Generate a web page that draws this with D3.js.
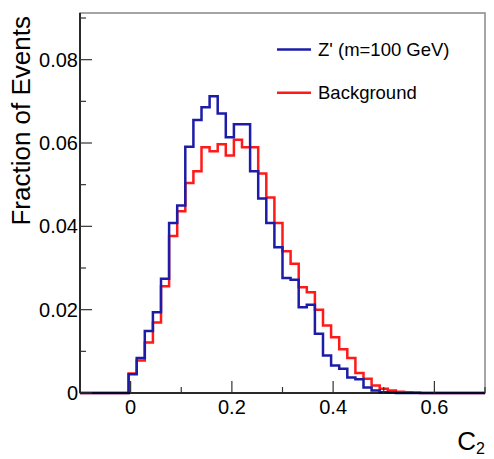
<!DOCTYPE html>
<html>
<head>
<meta charset="utf-8">
<script src="https://cdn.jsdelivr.net/npm/d3@7"></script>
<style>
  body { margin: 0; background: #fff; }
  svg text { font-family: "Liberation Sans", Arial, Helvetica, sans-serif; fill: #000; }
</style>
</head>
<body>
<div id="chart"></div>
<script>
const width = 494;
const height = 459;

// 50 bins from -0.1 to 0.7
const binLow = -0.1;
const binWidth = 0.016;

const signal = [
  0, 0, 0, 0, 0, 0, 0.0045, 0.0084, 0.0149, 0.0194,
  0.0274, 0.0408, 0.0450, 0.0591, 0.0655, 0.0686, 0.0712, 0.0671, 0.0614, 0.0645,
  0.0645, 0.0532, 0.0467, 0.0408, 0.0350, 0.0276, 0.0272, 0.0206, 0.0212, 0.0142,
  0.0090, 0.0066, 0.0058, 0.0037, 0.0033, 0.0013, 0.0006, 0.0002, 0.0001, 0,
  0, 0, 0, 0, 0, 0, 0, 0, 0, 0
];

const background = [
  0, 0, 0, 0, 0, 0, 0.0047, 0.0078, 0.0121, 0.0169,
  0.0256, 0.0377, 0.0436, 0.0504, 0.0532, 0.0590, 0.0580, 0.0597, 0.0570, 0.0608,
  0.0590, 0.0590, 0.0527, 0.0469, 0.0408, 0.0340, 0.0310, 0.0254, 0.0242, 0.0200,
  0.0162, 0.0134, 0.0105, 0.0084, 0.0048, 0.0034, 0.0018, 0.0010, 0.0006, 0.0003,
  0.0002, 0.0001, 0, 0, 0, 0, 0, 0, 0, 0
];

const xTicks = [0, 0.2, 0.4, 0.6];
const xMinor = [-0.1, 0.1, 0.3, 0.5, 0.7];
const yTicks = [0, 0.02, 0.04, 0.06, 0.08];
const yMinor = [0.01, 0.03, 0.05, 0.07, 0.09];

const series = [
  { name: "Background", values: background, color: "#ff1a1a" },
  { name: "Z' (m=100 GeV)", values: signal, color: "#1c1ca8" }
];

const m = { left: 80, right: 485, top: 13, bottom: 393 };

const x = d3.scaleLinear().domain([-0.1, 0.7]).range([m.left, m.right]);
const y = d3.scaleLinear().domain([0, 0.0912]).range([m.bottom, m.top]);

const svg = d3.select("#chart")
  .append("svg")
  .attr("width", width)
  .attr("height", height);

// frame
svg.append("rect")
  .attr("x", m.left).attr("y", m.top)
  .attr("width", m.right - m.left).attr("height", m.bottom - m.top)
  .attr("fill", "none")
  .attr("stroke", "#888")
  .attr("stroke-width", 1.5);

// step histogram lines
const stepLine = values => {
  const pts = [[binLow, 0]];
  values.forEach((v, i) => {
    const lo = binLow + i * binWidth;
    pts.push([lo, v], [lo + binWidth, v]);
  });
  pts.push([binLow + values.length * binWidth, 0]);
  return d3.line().x(d => x(d[0])).y(d => y(d[1]))(pts);
};

svg.selectAll(".hist")
  .data(series)
  .enter()
  .append("path")
  .attr("class", "hist")
  .attr("d", d => stepLine(d.values))
  .attr("fill", "none")
  .attr("stroke", d => d.color)
  .attr("stroke-width", 2.5)
  .attr("stroke-linejoin", "miter");

// axes lines
svg.append("line")
  .attr("x1", m.left).attr("x2", m.left).attr("y1", m.top).attr("y2", m.bottom)
  .attr("stroke", "#000").attr("stroke-width", 1.5);
svg.append("line")
  .attr("x1", m.left).attr("x2", m.right).attr("y1", m.bottom).attr("y2", m.bottom)
  .attr("stroke", "#000").attr("stroke-width", 1.5);

// ticks (inward)
svg.selectAll(".ytick")
  .data(yTicks.map(v => [v, 12]).concat(yMinor.map(v => [v, 6])))
  .enter()
  .append("line")
  .attr("x1", m.left).attr("x2", d => m.left + d[1])
  .attr("y1", d => y(d[0])).attr("y2", d => y(d[0]))
  .attr("stroke", "#333").attr("stroke-width", 1.2);

svg.selectAll(".xtick")
  .data(xTicks.map(v => [v, 12]).concat(xMinor.map(v => [v, 6])))
  .enter()
  .append("line")
  .attr("x1", d => x(d[0])).attr("x2", d => x(d[0]))
  .attr("y1", m.bottom).attr("y2", d => m.bottom - d[1])
  .attr("stroke", "#333").attr("stroke-width", 1.2);

// tick labels
svg.selectAll(".ylabel")
  .data(yTicks)
  .enter()
  .append("text")
  .attr("x", m.left - 2)
  .attr("y", d => y(d) + 7)
  .attr("text-anchor", "end")
  .style("font-size", "20px")
  .text(d => d === 0 ? "0" : d3.format(".2f")(d));

svg.selectAll(".xlabel")
  .data(xTicks)
  .enter()
  .append("text")
  .attr("x", d => x(d))
  .attr("y", 413.5)
  .attr("text-anchor", "middle")
  .style("font-size", "20px")
  .text(d => d === 0 ? "0" : d3.format(".1f")(d));

// axis titles
svg.append("text")
  .attr("transform", `translate(30, ${m.top + 3}) rotate(-90)`)
  .attr("text-anchor", "end")
  .style("font-size", "26px")
  .text("Fraction of Events");

const xTitle = svg.append("text")
  .attr("x", m.right)
  .attr("y", 450)
  .attr("text-anchor", "end")
  .style("font-size", "26px");
xTitle.append("tspan").text("C");
xTitle.append("tspan")
  .attr("dy", 4)
  .style("font-size", "16px")
  .text("2");

// legend
const legendData = [series[1], series[0]];
const legendItem = svg.selectAll(".legend-item")
  .data(legendData)
  .enter()
  .append("g")
  .attr("class", "legend-item")
  .attr("transform", (d, i) => `translate(277, ${49.5 + i * 43.3})`);

legendItem.append("line")
  .attr("x1", 0).attr("x2", 34)
  .attr("stroke", d => d.color)
  .attr("stroke-width", 2.5);

legendItem.append("text")
  .attr("x", 41)
  .attr("y", 6.5)
  .style("font-size", "18.5px")
  .text(d => d.name);
</script>
</body>
</html>
